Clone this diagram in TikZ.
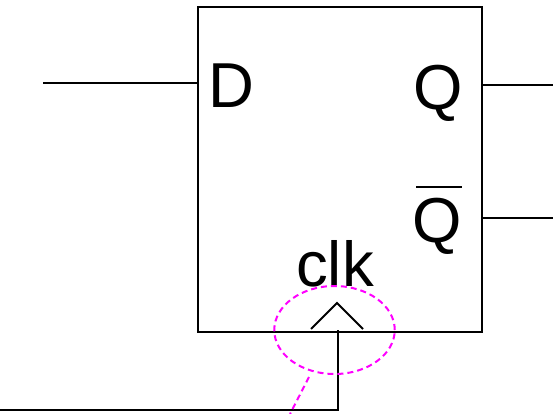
\documentclass[tikz,border=0pt]{standalone}
\usetikzlibrary{shapes.geometric}
\usepackage{fontspec}
\setmainfont{Liberation Sans}
\definecolor{ringmag}{RGB}{255,0,255}
\begin{document}
\begin{tikzpicture}[x=1pt,y=-1pt,
  wire/.style={draw=black,line width=2pt},
  lbl/.style={inner sep=0pt,font=\fontsize{63.5}{64}\selectfont,text=black,anchor=base},
  ring/.style={draw=ringmag,line width=2pt,dash pattern=on 6pt off 4pt}]
\useasboundingbox (0,0) rectangle (553,414);
\node[draw=black,line width=2pt,minimum width=284.5pt,minimum height=324.5pt,inner sep=0pt,anchor=north west] (box) at (196.5,6.5) {};
\coordinate (dl) at (43,83.5);
\coordinate (dr) at (197,83.5);
\coordinate (ql) at (482,85.5);
\coordinate (qr) at (553,85.5);
\coordinate (nl) at (482,217.5);
\coordinate (nr) at (553,217.5);
\coordinate (c0) at (0,409.5);
\coordinate (c1) at (337.5,409.5);
\coordinate (c2) at (337.5,330);
\coordinate (t1) at (311,329);
\coordinate (t2) at (337,303);
\coordinate (t3) at (363,329);
\coordinate (e1) at (309,377);
\coordinate (e2) at (290,414);
\coordinate (ob1) at (416,186.5);
\coordinate (ob2) at (462,186.5);
\draw[wire] (dl) -- (dr);
\draw[wire] (ql) -- (qr);
\draw[wire] (nl) -- (nr);
\draw[wire] (c0) -- (c1) -- (c2);
\draw[wire] (t1) -- (t2) -- (t3);
\draw[wire] (ob1) -- (ob2);
\node[lbl] (d) at (231.5,108) {D};
\node[lbl] (q) at (438.5,110) {Q};
\node[lbl] (nq) at (437.5,242) {Q};
\node[lbl] (clk) at (335,286) {clk};
\node[ring,ellipse,inner sep=0pt,minimum width=120.5pt,minimum height=88pt] (ell) at (334.5,330) {};
\draw[ring] (e1) -- (e2);
\end{tikzpicture}
\end{document}
